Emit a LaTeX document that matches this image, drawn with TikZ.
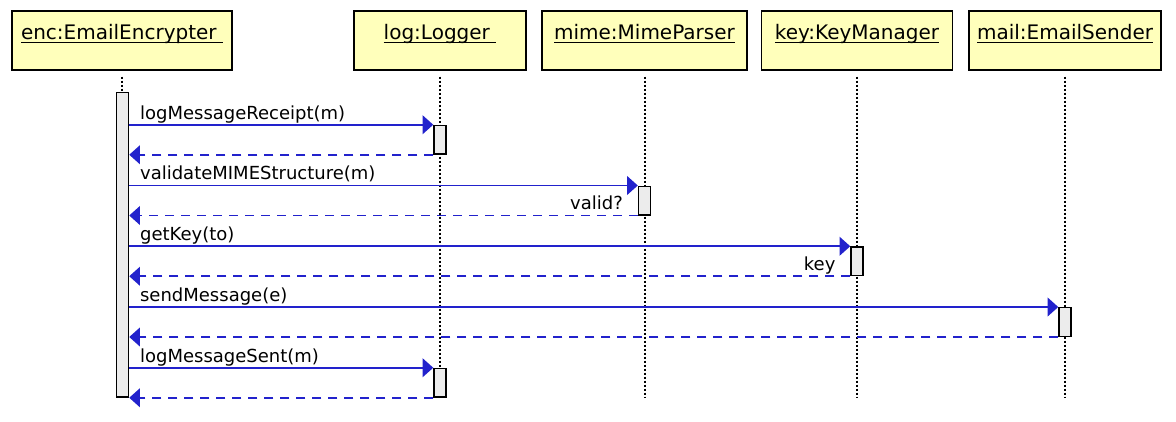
\documentclass[tikz,border=0pt]{standalone}
\usepackage{fontspec}
\setmainfont{DejaVu Sans}
\usepackage{tikz}
\usetikzlibrary{arrows.meta}
\definecolor{msgblue}{RGB}{34,34,204}
\definecolor{headyellow}{RGB}{255,255,187}
\definecolor{bargray}{RGB}{236,236,236}
\newcommand{\barw}{9pt}
\newcommand{\barh}{21.4pt}
\newcommand{\objname}[1]{\setbox0=\hbox{#1}\rlap{\copy0}\rule[-2.7pt]{\wd0}{0.9pt}}

\begin{document}
\begin{tikzpicture}[x=0.75pt,y=-0.75pt]
        \begin{scope}
            %\draw[help lines] (0,0) grid (1176,421);
            \useasboundingbox (0,0) rectangle (1176,421);
            \tikzset{
                head/.style = {draw, line width=1.1pt, fill=headyellow, inner sep=0pt,
                    text height=21.2pt, text depth=23.05pt, font=\fontsize{15}{17}\selectfont},
                lifeline/.style = {line width=1.5pt, dash pattern=on 1.5pt off 1.5pt},
                actbar/.style = {draw, line width=1.1pt, fill=bargray, minimum width=\barw,
                    minimum height=\barh, inner sep=0pt},
                call/.style = {draw=msgblue, line width=1.3pt, -{Triangle[length=8pt,width=14pt]}},
                ret/.style = {call, dash pattern=on 6.75pt off 5.25pt},
                msg/.style = {pos=0, anchor=base west, inner sep=0pt, xshift=7.5pt, yshift=4.3pt,
                    font=\fontsize{13.5}{16}\selectfont},
                rmsg/.style = {pos=0, anchor=base east, inner sep=0pt, xshift=-10.5pt, yshift=4.3pt,
                    font=\fontsize{13.5}{16}\selectfont}
            }
            \node[head, minimum width=165pt] (enc) at (122,40.5) {\objname{enc:EmailEncrypter\ }};
            \node[head, minimum width=129pt] (log) at (440,40.5) {\objname{log:Logger\ }};
            \node[head, minimum width=153.75pt] (mime) at (644.5,40.5) {\objname{mime:MimeParser}};
            \node[head, minimum width=143.25pt] (key) at (857,40.5) {\objname{key:KeyManager}};
            \node[head, minimum width=144pt] (mail) at (1065,40.5) {\objname{mail:EmailSender}};

            \coordinate (bottom) at (0,397);
            \draw[lifeline] ([yshift=-4.5pt]enc.south) -- (enc |- bottom);
            \draw[lifeline] ([yshift=-4.5pt]log.south) -- (log |- bottom);
            \draw[lifeline] ([yshift=-4.5pt]mime.south) -- (mime |- bottom);
            \draw[lifeline] ([yshift=-4.5pt]key.south) -- (key |- bottom);
            \draw[lifeline] ([yshift=-4.5pt]mail.south) -- (mail |- bottom);

            \node[actbar, minimum height=228.2pt] (a0) at (122.5,244.85) {};
            \node[actbar] (a1) at (440,139.75) {};
            \node[actbar] (a2) at (644.5,200.5) {};
            \node[actbar] (a3) at (857,261.25) {};
            \node[actbar] (a4) at (1065,322) {};
            \node[actbar] (a5) at (440,382.75) {};

            \draw[call] (a0.east |- a1.north) -- node[msg] {logMessageReceipt(m)} (a1.north west);
            \draw[ret] (a1.south west) -- (a0.east |- a1.south);

            \draw[call] (a0.east |- a2.north) -- node[msg] {validateMIMEStructure(m)} (a2.north west);
            \draw[ret] (a2.south west) -- node[rmsg] {valid?} (a0.east |- a2.south);

            \draw[call] (a0.east |- a3.north) -- node[msg] {getKey(to)} (a3.north west);
            \draw[ret] (a3.south west) -- node[rmsg] {key} (a0.east |- a3.south);

            \draw[call] (a0.east |- a4.north) -- node[msg] {sendMessage(e)} (a4.north west);
            \draw[ret] (a4.south west) -- (a0.east |- a4.south);

            \draw[call] (a0.east |- a5.north) -- node[msg] {logMessageSent(m)} (a5.north west);
            \draw[ret] (a5.south west) -- (a0.east |- a5.south);
        \end{scope}
    \end{tikzpicture}
\end{document}
